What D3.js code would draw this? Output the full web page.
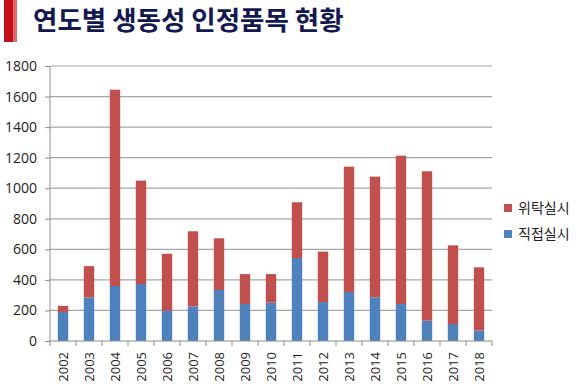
<!DOCTYPE html>
<html>
<head>
<meta charset="utf-8">
<style>
  body { margin: 0; background: #fff; }
  svg text { font-family: "Noto Sans CJK KR", "Noto Sans", sans-serif; }
</style>
<title>연도별 생동성 인정품목 현황</title>
</head>
<body>
<script src="https://cdn.jsdelivr.net/npm/d3@7"></script>
<script>
// data
const years = ["2002","2003","2004","2005","2006","2007","2008","2009","2010",
               "2011","2012","2013","2014","2015","2016","2017","2018"];
const direct = [190, 285, 360, 373, 198, 227, 334, 242, 251, 543, 255, 321, 286, 242, 133, 111, 68];
const total  = [230, 490, 1645, 1050, 571, 718, 672, 438, 438, 908, 585, 1141, 1076, 1213, 1111, 626, 482];
const consign = total.map((t, i) => t - direct[i]);
const yTicks = [0, 200, 400, 600, 800, 1000, 1200, 1400, 1600, 1800];
const seriesNames = ["위탁실시", "직접실시"];
const colors = {"위탁실시": "#c0504d", "직접실시": "#4f81bd"};

const W = 580, H = 392;
const margin = {top: 66, right: 88, bottom: 51, left: 50};
const width = W - margin.left - margin.right;
const height = H - margin.top - margin.bottom;

const svg = d3.select("body").append("svg")
  .attr("width", W).attr("height", H);

// title + red accent bar
svg.append("rect").attr("x", 4).attr("y", 0).attr("width", 9).attr("height", 42).attr("fill", "#c4121a");
svg.append("rect").attr("x", 13).attr("y", 0).attr("width", 4).attr("height", 42).attr("fill", "#e06a6a");
svg.append("text")
  .attr("x", 33).attr("y", 30)
  .attr("font-size", 26.5).attr("font-weight", "bold")
  .attr("fill", "#13194f")
  .text("연도별 생동성 인정품목 현황");

const g = svg.append("g").attr("transform", "translate(" + margin.left + "," + margin.top + ")");

const x = d3.scaleBand().domain(years).range([0, width]).paddingInner(0.6).paddingOuter(0.3);
const y = d3.scaleLinear().domain([0, 1800]).range([height, 0]);

// gridlines
g.selectAll("line.grid").data(yTicks.slice(1)).enter().append("line")
  .attr("class", "grid")
  .attr("x1", 0).attr("x2", width)
  .attr("y1", d => y(d)).attr("y2", d => y(d))
  .attr("stroke", "#a6a6a6").attr("stroke-width", 1.2);

// stacked bars
const rows = years.map((yr, i) => ({year: yr, "직접실시": direct[i], "위탁실시": consign[i]}));
const stack = d3.stack().keys(["직접실시", "위탁실시"])(rows);

g.selectAll("g.series").data(stack).enter().append("g")
  .attr("fill", d => colors[d.key])
  .selectAll("rect").data(d => d).enter().append("rect")
  .attr("x", d => x(d.data.year))
  .attr("width", x.bandwidth())
  .attr("y", d => y(d[1]))
  .attr("height", d => y(d[0]) - y(d[1]));

// y axis
const yAxis = g.append("g")
  .call(d3.axisLeft(y).tickValues(yTicks).tickFormat(d3.format("d")).tickSize(5).tickPadding(8));
yAxis.select(".domain").attr("stroke", "#8c8c8c").attr("d", "M0," + height + "V0");
yAxis.selectAll(".tick line").attr("stroke", "#8c8c8c");
yAxis.selectAll("text").attr("font-size", 14).attr("fill", "#222")
  .style("font-family", "'Open Sans', 'DejaVu Sans', sans-serif");

// x axis: ticks between categories
const step = x.step();
const xAxis = g.append("g").attr("transform", "translate(0," + height + ")");
xAxis.append("line").attr("x1", 0).attr("x2", width).attr("stroke", "#8c8c8c");
xAxis.selectAll("line.tk").data(d3.range(years.length + 1)).enter().append("line")
  .attr("class", "tk")
  .attr("x1", i => i * step).attr("x2", i => i * step)
  .attr("y1", 0).attr("y2", 5).attr("stroke", "#8c8c8c");
xAxis.selectAll("text").data(years).enter().append("text")
  .attr("transform", d => "translate(" + (x(d) + x.bandwidth() / 2 + 5) + ",11) rotate(-90)")
  .attr("text-anchor", "end")
  .attr("font-size", 13).attr("fill", "#222")
  .style("font-family", "'Open Sans', 'DejaVu Sans', sans-serif")
  .text(d => d);

// legend
const legend = svg.append("g").attr("transform", "translate(504,202)");
seriesNames.forEach((name, i) => {
  const row = legend.append("g").attr("transform", "translate(0," + (i * 26) + ")");
  row.append("rect").attr("width", 8).attr("height", 8).attr("y", 2).attr("fill", colors[name]);
  row.append("text").attr("x", 14).attr("y", 11).attr("font-size", 14).attr("fill", "#222").text(name);
});
</script>
</body>
</html>
